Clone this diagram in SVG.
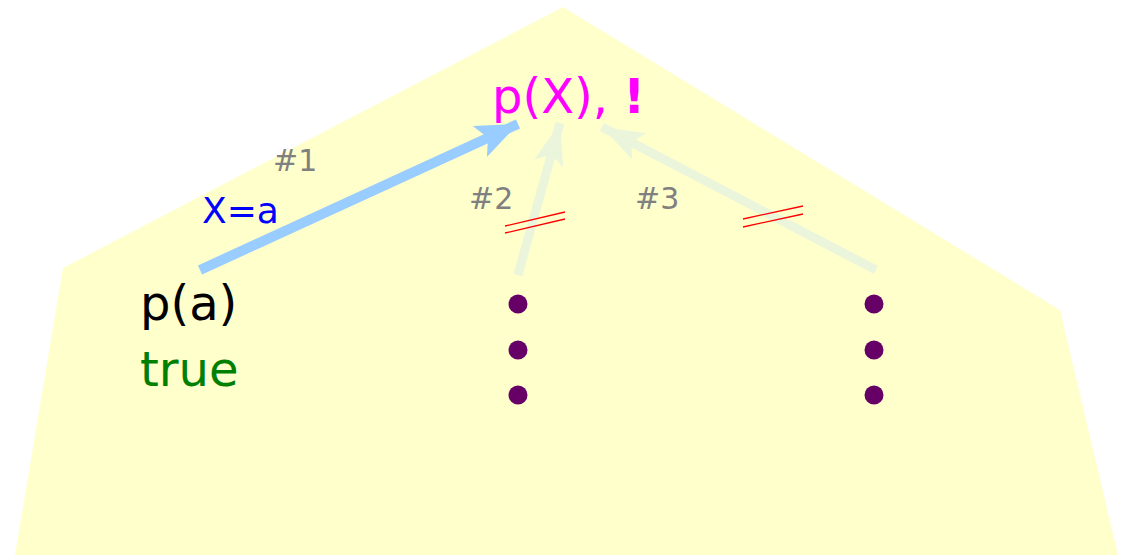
<svg xmlns="http://www.w3.org/2000/svg" width="1121" height="555" viewBox="0 0 1121 555">
<style>
text{font-family:"DejaVu Sans",sans-serif}
.lbl{fill:#808080;font-size:30px}
.big{font-size:48px}
.dot{fill:#660066}
.cut{stroke:#ff0000;stroke-width:1.3}
</style>
<defs>
<marker id="hb" markerUnits="userSpaceOnUse" markerWidth="44" markerHeight="34" refX="42" refY="17" orient="auto"><path d="M0,0 L42,17 L0,34 L9,17 Z" fill="#99ccff"/></marker>
<marker id="hg" markerUnits="userSpaceOnUse" markerWidth="44" markerHeight="34" refX="42" refY="17" orient="auto"><path d="M0,2 L42,17 L0,32 L9,17 Z" fill="#eaf5dc"/></marker>
</defs>
<polygon points="15,555 63,268 563,7 1060,310 1118,555" fill="#ffffcc"/>
<g id="connectors">
<line x1="200" y1="270" x2="518" y2="124" stroke="#99ccff" stroke-width="10" marker-end="url(#hb)"/>
<line x1="518" y1="275" x2="560" y2="123" stroke="#eaf5dc" stroke-width="9" marker-end="url(#hg)"/>
<line x1="876" y1="270" x2="602" y2="127" stroke="#eaf5dc" stroke-width="9" marker-end="url(#hg)"/>
<line class="cut" x1="505" y1="226" x2="565" y2="212"/>
<line class="cut" x1="505" y1="233" x2="565" y2="219"/>
<line class="cut" x1="743" y1="219" x2="803" y2="206"/>
<line class="cut" x1="743" y1="227" x2="803" y2="214"/>
<text class="lbl" x="273" y="171">#1</text>
<text x="202" y="223" fill="#0000ff" font-size="36">X=a</text>
<text class="lbl" x="469" y="209">#2</text>
<text class="lbl" x="635" y="209">#3</text>
</g>
<g id="goal"><text class="big" x="492" y="113" fill="#ff00ff">p(X), <tspan font-weight="bold">!</tspan></text></g>
<g id="clause1"><text class="big" x="140" y="320" fill="#000000">p(a)</text><text class="big" x="140" y="386" fill="#008000">true</text></g>
<g id="clause2"><circle class="dot" cx="518" cy="304" r="9.5"/><circle class="dot" cx="518" cy="350" r="9.5"/><circle class="dot" cx="518" cy="395" r="9.5"/></g>
<g id="clause3"><circle class="dot" cx="874" cy="304" r="9.5"/><circle class="dot" cx="874" cy="350" r="9.5"/><circle class="dot" cx="874" cy="395" r="9.5"/></g>
</svg>
